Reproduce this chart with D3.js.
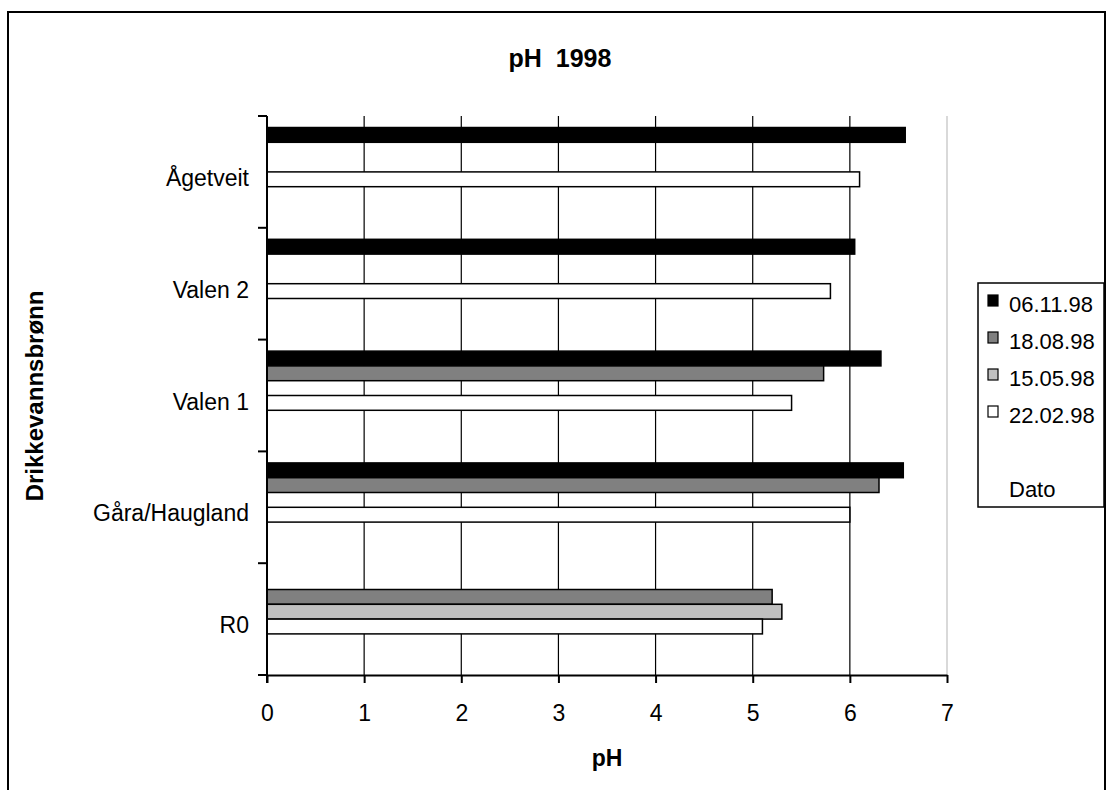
<!DOCTYPE html>
<html>
<head>
<meta charset="utf-8">
<script src="https://cdn.jsdelivr.net/npm/d3@7"></script>
<style>
  body { margin: 0; background: #fff; }
  text { font-family: Arial, "Liberation Sans", sans-serif; }
</style>
</head>
<body>
<svg id="chart" width="1113" height="790"></svg>
<script>
// categories top to bottom
var wells = ['Ågetveit', 'Valen 2', 'Valen 1', 'Gåra/Haugland', 'R0'];
// series, in legend order (last two have no data)
var dates = ['06.11.98', '18.08.98', '15.05.98', '22.02.98', '', 'Dato'];
var fills = ['#000000', '#808080', '#c0c0c0', '#ffffff', 'none', 'none'];
// pH values per series, one per well (null = no sample)
var ph061198 = [6.57, 6.05, 6.32, 6.55, null];
var ph180898 = [null, null, 5.73, 6.30, 5.20];
var ph150598 = [null, null, null, null, 5.30];
var ph220298 = [6.10, 5.80, 5.40, 6.00, 5.10];
var xTicks = [0, 1, 2, 3, 4, 5, 6, 7];

var seriesVals = [ph061198, ph180898, ph150598, ph220298, [], []];

var bars = [];
dates.forEach(function(d, si) {
  seriesVals[si].forEach(function(v, wi) {
    if (v != null) bars.push({ well: wells[wi], date: d, val: v, fill: fills[si] });
  });
});

var svg = d3.select('#chart');

// outer frame
svg.append('rect')
  .attr('x', 8).attr('y', 12)
  .attr('width', 1097).attr('height', 800)
  .attr('fill', 'none').attr('stroke', '#000').attr('stroke-width', 2);

var pLeft = 267, pRight = 947, pTop = 116, pBottom = 675;

var x = d3.scaleLinear().domain([0, 7]).range([pLeft, pRight]);
var y = d3.scaleBand().domain(wells).range([pTop, pBottom]);
var bw = y.bandwidth();
var yInner = d3.scaleBand().domain(dates).range([bw * 0.103, bw * 0.897]);

// gridlines
svg.append('g').selectAll('line')
  .data(xTicks.slice(1))
  .join('line')
    .attr('x1', function(d) { return x(d); })
    .attr('x2', function(d) { return x(d); })
    .attr('y1', pTop)
    .attr('y2', pBottom)
    .attr('stroke', function(d) { return d === 7 ? '#c0c0c0' : '#000'; })
    .attr('stroke-width', 1.2);

// bars
svg.append('g').selectAll('rect')
  .data(bars)
  .join('rect')
    .attr('x', x(0))
    .attr('y', function(d) { return y(d.well) + yInner(d.date); })
    .attr('width', function(d) { return x(d.val) - x(0); })
    .attr('height', yInner.bandwidth())
    .attr('fill', function(d) { return d.fill; })
    .attr('stroke', '#000')
    .attr('stroke-width', 1.5);

// x axis
var xAxis = svg.append('g')
  .attr('transform', 'translate(0,' + pBottom + ')')
  .call(d3.axisBottom(x).tickValues(xTicks).tickFormat(d3.format('d'))
    .tickSize(8).tickPadding(22).tickSizeOuter(0));
xAxis.select('.domain').attr('stroke', '#000').attr('stroke-width', 2);
xAxis.selectAll('.tick line').attr('stroke-width', 2);
xAxis.selectAll('text').attr('font-size', 23).attr('fill', '#000');

// y axis line with ticks between categories
svg.append('line')
  .attr('x1', pLeft).attr('x2', pLeft)
  .attr('y1', pTop).attr('y2', pBottom + 8)
  .attr('stroke', '#000').attr('stroke-width', 2);
var bounds = wells.map(function(w) { return y(w); }).concat([pBottom]);
svg.append('g').selectAll('line')
  .data(bounds)
  .join('line')
    .attr('x1', pLeft - 9).attr('x2', pLeft)
    .attr('y1', function(d) { return d; })
    .attr('y2', function(d) { return d; })
    .attr('stroke', '#000').attr('stroke-width', 2);

svg.append('g').selectAll('text')
  .data(wells)
  .join('text')
    .attr('x', pLeft - 18)
    .attr('y', function(d) { return y(d) + bw / 2 + 8; })
    .attr('text-anchor', 'end')
    .attr('dominant-baseline', 'middle')
    .attr('font-size', 23)
    .text(function(d) { return d; });

// titles
svg.append('text')
  .attr('x', 560).attr('y', 67)
  .attr('text-anchor', 'middle')
  .attr('font-size', 25).attr('font-weight', 'bold')
  .attr('xml:space', 'preserve')
  .text('pH  1998');

svg.append('text')
  .attr('x', (pLeft + pRight) / 2).attr('y', 766)
  .attr('text-anchor', 'middle')
  .attr('font-size', 23).attr('font-weight', 'bold')
  .text('pH');

svg.append('text')
  .attr('transform', 'translate(43,' + 396 + ') rotate(-90)')
  .attr('text-anchor', 'middle')
  .attr('font-size', 24).attr('font-weight', 'bold')
  .text('Drikkevannsbrønn');

// legend
var lg = svg.append('g');
lg.append('rect')
  .attr('x', 978).attr('y', 283)
  .attr('width', 126).attr('height', 224)
  .attr('fill', '#fff').attr('stroke', '#000').attr('stroke-width', 1.5);

var rows = lg.selectAll('g.row')
  .data(dates)
  .join('g')
    .attr('class', 'row')
    .attr('transform', function(d, i) { return 'translate(988,' + (303 + i * 37) + ')'; });

rows.filter(function(d, i) { return i < 4; })
  .append('rect')
    .attr('x', 0).attr('y', -8)
    .attr('width', 10).attr('height', 11)
    .attr('fill', function(d, i) { return fills[i]; })
    .attr('stroke', '#000').attr('stroke-width', 1.2);

rows.append('text')
  .attr('x', 21).attr('y', 3)
  .attr('dominant-baseline', 'middle')
  .attr('font-size', 22)
  .text(function(d) { return d; });
</script>
</body>
</html>
